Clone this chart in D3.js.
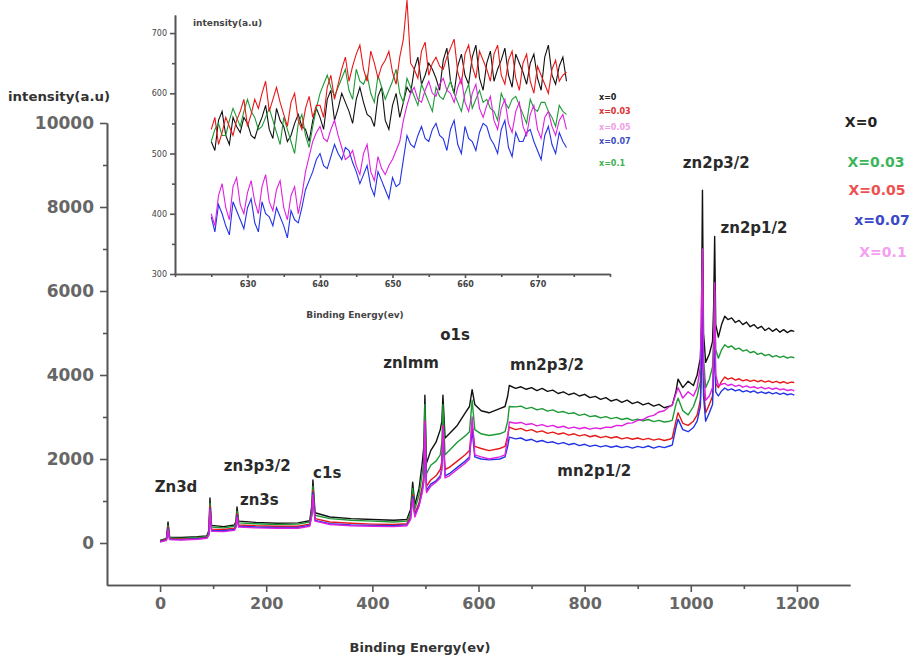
<!DOCTYPE html>
<html>
<head>
<meta charset="utf-8">
<script src="https://cdn.jsdelivr.net/npm/d3@7"></script>
<style>
  body { margin: 0; background: #fff; }
  text { font-family: "DejaVu Sans", Arial, sans-serif; }
</style>
</head>
<body>
<svg id="canvas"></svg>
<script>
// ---- main survey spectrum (binding energy in eV, intensity in a.u.) ----
const energy = [0, 5, 12, 15, 18, 40, 70, 88, 92, 94, 97, 120, 140, 143, 145, 148, 180, 220, 260, 282,
  286, 288, 292, 320, 360, 400, 440, 465, 472, 476, 480, 488, 494, 497, 499, 502, 510, 520, 528, 531,
  533, 537, 545, 560, 575, 583, 588, 593, 605, 620, 640, 650, 655, 658,
  670, 680, 690, 700, 710, 720, 730, 740, 750, 760, 770, 780, 790, 800, 810, 820, 830, 840, 850, 860,
  870, 880, 890, 900, 910, 920, 930, 940, 950, 960, 965,
  972, 976, 985, 995, 1005, 1012, 1018, 1020, 1022, 1024, 1028, 1035, 1041, 1043, 1045, 1047, 1052, 1058,
  1064, 1070, 1077, 1084, 1091, 1098, 1105, 1112, 1119, 1126, 1133, 1140, 1147, 1154, 1161, 1168, 1175, 1182, 1189, 1195]

const x0 = [60, 80, 110, 500, 140, 130, 150, 170, 300, 1070, 420, 390, 430, 520, 860, 520, 490, 470, 480, 530,
  900, 1500, 720, 620, 580, 560, 540, 560, 800, 1450, 900, 1300, 1900, 2300, 3520, 1900, 2200, 2400, 2700, 2900,
  3520, 2500, 2600, 2800, 3100, 3250, 3650, 3300, 3150, 3100, 3200, 3250, 3500, 3750,
  3680, 3720, 3660, 3700, 3630, 3680, 3610, 3640, 3560, 3600, 3530, 3570, 3500, 3540, 3460, 3490, 3420, 3460, 3380, 3420,
  3350, 3400, 3320, 3360, 3290, 3330, 3260, 3300, 3220, 3260, 3280,
  3600, 3900, 3700, 3850, 3750, 4000, 4400, 5200, 8400, 5000, 4300, 4500, 4800, 5600, 7300, 5200, 4900, 5200,
  5400, 5320, 5360, 5250, 5300, 5200, 5260, 5150, 5200, 5110, 5160, 5060, 5120, 5040, 5100, 5020, 5080, 5010, 5060, 5040]

const x003 = [50, 70, 100, 420, 120, 110, 130, 150, 260, 950, 380, 360, 400, 470, 760, 480, 460, 440, 450, 500,
  800, 1350, 660, 580, 540, 520, 500, 520, 700, 1300, 800, 1150, 1650, 2000, 3300, 1650, 1850, 1950, 2100, 2400,
  3300, 2100, 2200, 2400, 2550, 2650, 3400, 2700, 2600, 2560, 2600, 2650, 2900, 3250,
  3240, 3260, 3200, 3230, 3170, 3200, 3140, 3170, 3110, 3130, 3080, 3100, 3040, 3070, 3010, 3030, 2980, 3010, 2960, 2990,
  2940, 2970, 2920, 2950, 2910, 2940, 2890, 2920, 2880, 2900, 2920,
  3300, 3450, 3150, 3050, 3250, 3500, 3850, 4600, 6500, 4400, 3700, 3900, 4200, 4900, 6000, 4600, 4400, 4600,
  4720, 4660, 4690, 4610, 4640, 4570, 4600, 4530, 4560, 4490, 4520, 4460, 4490, 4430, 4460, 4420, 4450, 4400, 4430, 4410]

const x005 = [40, 60, 80, 380, 100, 90, 110, 130, 220, 880, 330, 320, 350, 420, 700, 430, 410, 400, 400, 450,
  720, 1250, 580, 500, 470, 450, 440, 460, 620, 1150, 700, 950, 1350, 1600, 2900, 1350, 1500, 1600, 1750, 1950,
  2800, 1750, 1800, 1950, 2100, 2200, 2800, 2300, 2250, 2200, 2250, 2300, 2550, 2760,
  2700, 2730, 2670, 2700, 2640, 2670, 2610, 2640, 2590, 2620, 2570, 2600, 2550, 2580, 2530, 2560, 2510, 2540, 2500, 2530,
  2480, 2510, 2470, 2500, 2460, 2490, 2450, 2480, 2440, 2470, 2500,
  2900, 3100, 2850, 2800, 2900, 3050, 3400, 4200, 6000, 3700, 3100, 3300, 3500, 4200, 5200, 3800, 3700, 3850,
  3950, 3900, 3930, 3880, 3910, 3860, 3890, 3850, 3880, 3840, 3870, 3830, 3860, 3820, 3850, 3810, 3840, 3800, 3830, 3820]

const x007 = [30, 50, 70, 350, 90, 80, 100, 120, 200, 820, 300, 290, 320, 390, 650, 400, 380, 370, 370, 420,
  680, 1200, 540, 460, 430, 420, 410, 430, 580, 1100, 650, 900, 1250, 1500, 2800, 1250, 1400, 1480, 1600, 1800,
  2700, 1600, 1650, 1800, 1950, 2050, 2700, 2050, 2000, 1980, 2000, 2050, 2300, 2520,
  2480, 2500, 2440, 2470, 2410, 2440, 2390, 2410, 2360, 2390, 2340, 2370, 2320, 2350, 2300, 2330, 2290, 2320, 2280, 2310,
  2270, 2300, 2260, 2300, 2270, 2310, 2260, 2300, 2270, 2310, 2330,
  2750, 2950, 2700, 2650, 2750, 2900, 3250, 4000, 5800, 3500, 2900, 3100, 3300, 4000, 5000, 3600, 3500, 3620,
  3690, 3640, 3670, 3620, 3650, 3600, 3630, 3590, 3620, 3570, 3600, 3560, 3590, 3550, 3580, 3540, 3570, 3530, 3550, 3520]

const x01 = [20, 40, 60, 330, 80, 70, 90, 110, 190, 800, 280, 270, 300, 370, 620, 380, 360, 350, 350, 400,
  650, 1150, 520, 440, 410, 400, 390, 410, 560, 1050, 620, 880, 1200, 1450, 2900, 1200, 1350, 1450, 1550, 1750,
  2800, 1550, 1600, 1750, 1900, 2000, 3000, 2100, 2050, 2000, 2050, 2100, 2500, 2880,
  2850, 2870, 2820, 2840, 2790, 2820, 2770, 2800, 2750, 2780, 2730, 2760, 2720, 2750, 2710, 2740, 2720, 2760, 2750, 2800,
  2790, 2850, 2860, 2920, 2940, 3010, 3040, 3120, 3150, 3250, 3280,
  3550, 3700, 3450, 3600, 3500, 3700, 4200, 5500, 7000, 4200, 3400, 3500, 3700, 4500, 6200, 4000, 3750, 3780,
  3800, 3750, 3780, 3730, 3760, 3710, 3740, 3700, 3720, 3680, 3710, 3670, 3700, 3660, 3690, 3650, 3670, 3630, 3650, 3620]

const mainNames = ["X=0", "X=0.03", "X=0.05", "x=0.07", "X=0.1"]
const mainColors = ["#111111", "#1d9a35", "#e81818", "#2233e6", "#e020e0"]
const legendColors = ["#222222", "#3cb55a", "#ee5050", "#3a48c8", "#f3a0f0"]

const xTicks = [0, 200, 400, 600, 800, 1000, 1200]
const xMinor = [100, 300, 500, 700, 900, 1100]
const yTicks = [0, 2000, 4000, 6000, 8000, 10000]
const yMinor = [1000, 3000, 5000, 7000, 9000]

const peakNames = ["Zn3d", "zn3p3/2", "zn3s", "c1s", "znlmm", "o1s", "mn2p3/2", "mn2p1/2", "zn2p3/2", "zn2p1/2"]
const peakAt = [30, 183, 187, 315, 473, 556, 729, 818, 1048, 1119]
const peakLevel = [1214, 1714, 905, 1548, 4167, 4833, 4119, 1595, 8929, 7381]

// ---- inset: close-up scan, 0.5 eV steps ----
const insetEnergy = [625, 625.5, 626, 626.5, 627, 627.5, 628, 628.5, 629, 629.5, 630, 630.5, 631, 631.5, 632, 632.5,
  633, 633.5, 634, 634.5, 635, 635.5, 636, 636.5, 637, 637.5, 638, 638.5, 639, 639.5, 640, 640.5,
  641, 641.5, 642, 642.5, 643, 643.5, 644, 644.5, 645, 645.5, 646, 646.5, 647, 647.5, 648, 648.5,
  649, 649.5, 650, 650.5, 651, 651.5, 652, 652.5, 653, 653.5, 654, 654.5, 655, 655.5, 656, 656.5,
  657, 657.5, 658, 658.5, 659, 659.5, 660, 660.5, 661, 661.5, 662, 662.5, 663, 663.5, 664, 664.5,
  665, 665.5, 666, 666.5, 667, 667.5, 668, 668.5, 669, 669.5, 670, 670.5, 671, 671.5, 672, 672.5,
  673, 673.5, 674]
const in0 = [520, 505, 555, 570, 530, 515, 560, 545, 535, 560, 550, 530, 525, 545, 560, 580, 540, 525, 575, 555,
  545, 520, 530, 550, 565, 545, 540, 520, 555, 575, 560, 540, 590, 605, 555, 575, 600, 585, 570, 550,
  590, 610, 585, 565, 560, 545, 595, 610, 555, 540, 580, 600, 560, 585, 610, 600, 640, 660, 615, 630,
  650, 640, 625, 605, 655, 675, 620, 600, 645, 665, 630, 615, 660, 680, 625, 605, 650, 670, 620, 640,
  655, 675, 630, 610, 665, 650, 635, 615, 650, 665, 625, 605, 660, 680, 630, 615, 645, 660, 620]
const in003 = [540, 560, 515, 535, 560, 545, 530, 555, 570, 590, 545, 565, 590, 575, 600, 620, 570, 590, 610, 585,
  565, 545, 585, 600, 555, 540, 575, 595, 560, 580, 580, 560, 610, 630, 590, 615, 640, 660, 620, 645,
  665, 680, 640, 620, 670, 650, 625, 645, 655, 670, 635, 615, 660, 690, 755, 650, 640, 625, 670, 685,
  630, 650, 660, 645, 640, 660, 675, 690, 635, 615, 665, 680, 645, 625, 670, 655, 640, 620, 665, 680,
  630, 615, 655, 670, 625, 605, 650, 665, 620, 600, 645, 630, 615, 600, 640, 655, 620, 630, 635]
const in005 = [400, 380, 430, 450, 410, 390, 445, 460, 415, 400, 435, 455, 420, 400, 445, 465, 420, 405, 440, 455,
  410, 390, 430, 445, 400, 430, 470, 495, 520, 535, 545, 525, 520, 540, 555, 530, 510, 490, 495, 505,
  480, 465, 500, 515, 470, 455, 495, 475, 465, 480, 490, 505, 520, 555, 580, 600, 610, 590, 585, 605,
  620, 600, 595, 615, 625, 605, 600, 585, 610, 625, 585, 570, 600, 615, 575, 560, 580, 595, 555, 540,
  575, 590, 550, 535, 570, 585, 545, 530, 565, 580, 540, 525, 560, 570, 545, 530, 555, 565, 540]
const in007 = [395, 370, 415, 400, 380, 365, 420, 405, 390, 375, 410, 425, 385, 370, 420, 400, 395, 380, 410, 395,
  380, 360, 405, 390, 385, 410, 440, 455, 470, 490, 500, 480, 475, 495, 515, 500, 490, 510, 505, 485,
  470, 450, 465, 480, 445, 430, 470, 455, 440, 425, 460, 445, 450, 490, 530, 515, 510, 530, 545, 525,
  520, 540, 550, 530, 525, 505, 540, 555, 515, 500, 545, 525, 520, 505, 535, 550, 545, 525, 515, 500,
  540, 555, 510, 495, 535, 520, 520, 535, 540, 520, 505, 490, 530, 545, 515, 500, 535, 520, 510]
const in01 = [520, 540, 550, 530, 530, 555, 575, 560, 545, 570, 590, 570, 560, 540, 545, 560, 575, 555, 535, 515,
  560, 540, 520, 500, 550, 565, 530, 510, 545, 575, 600, 615, 630, 610, 595, 610, 625, 640, 605, 590,
  640, 620, 615, 630, 600, 585, 630, 610, 590, 605, 620, 640, 600, 585, 625, 610, 595, 580, 615, 600,
  585, 570, 610, 595, 590, 605, 620, 600, 585, 570, 600, 615, 575, 590, 605, 585, 590, 575, 570, 555,
  600, 585, 575, 590, 595, 580, 565, 550, 590, 575, 570, 585, 585, 570, 560, 545, 580, 570, 565]

const insetNames = ["x=0", "x=0.03", "x=0.05", "x=0.07", "x=0.1"]
const insetColors = ["#111111", "#e81818", "#e020e0", "#2233e6", "#1d9a35"]
const insetLegendColors = ["#222222", "#e03030", "#f0a0e8", "#4050c0", "#40b050"]
const insetXTicks = [630, 640, 650, 660, 670]
const insetXMinor = [620, 625, 635, 645, 655, 665, 675, 680]
const insetYTicks = [300, 400, 500, 600, 700]
const insetYMinor = [350, 450, 550, 650]

const width = 912, height = 657
const svg = d3.select("#canvas").attr("width", width).attr("height", height)

// main frame
const x = d3.scaleLinear().domain([-100, 1300]).range([107, 850])
const y = d3.scaleLinear().domain([-1000, 10000]).range([585, 123])

const axisColor = "#555"

function styleAxis(g, fontSize, weight, fill) {
    g.select(".domain").attr("stroke", axisColor).attr("stroke-width", 2)
    g.selectAll(".tick line").attr("stroke", axisColor).attr("stroke-width", 1.6)
    g.selectAll(".tick text")
        .attr("fill", fill)
        .style("font-size", fontSize + "px")
        .style("font-weight", weight)
        .style("font-family", '"DejaVu Sans", Arial, sans-serif')
}

const mainSeries = [x0, x003, x005, x007, x01]
const line = d3.line().x((d, i) => x(energy[i])).y(d => y(d))

svg.append("g").selectAll("path")
    .data(mainSeries)
    .enter().append("path")
    .attr("d", d => line(d))
    .attr("fill", "none")
    .attr("stroke", (d, i) => mainColors[i])
    .attr("stroke-width", 1.4)
    .attr("stroke-linejoin", "round")

const fmt = d3.format("d")

svg.append("g")
    .attr("transform", "translate(0,585)")
    .call(d3.axisBottom(x).tickValues(xMinor).tickSize(4).tickSizeOuter(0).tickFormat(""))
    .call(g => styleAxis(g, 16, "bold", "#666"))
svg.append("g")
    .attr("transform", "translate(0,585)")
    .call(d3.axisBottom(x).tickValues(xTicks).tickSize(7).tickSizeOuter(0).tickPadding(6).tickFormat(fmt))
    .call(g => styleAxis(g, 16, "bold", "#666"))

svg.append("g")
    .attr("transform", "translate(107,0)")
    .call(d3.axisLeft(y).tickValues(yMinor).tickSize(4).tickSizeOuter(0).tickFormat(""))
    .call(g => styleAxis(g, 17, "bold", "#666"))
svg.append("g")
    .attr("transform", "translate(107,0)")
    .call(d3.axisLeft(y).tickValues(yTicks).tickSize(7).tickSizeOuter(0).tickPadding(6).tickFormat(fmt))
    .call(g => styleAxis(g, 17, "bold", "#666"))

svg.append("text")
    .attr("x", 420).attr("y", 652)
    .attr("text-anchor", "middle")
    .style("font-size", "13px").style("font-weight", "bold").attr("fill", "#333")
    .text("Binding Energy(ev)")

svg.append("text")
    .attr("x", 8).attr("y", 101)
    .attr("textLength", 102).attr("lengthAdjust", "spacingAndGlyphs")
    .style("font-size", "12px").style("font-weight", "bold").attr("fill", "#333")
    .text("intensity(a.u)")

// peak labels
svg.append("g").selectAll("text")
    .data(peakNames)
    .enter().append("text")
    .attr("x", (d, i) => x(peakAt[i]))
    .attr("y", (d, i) => y(peakLevel[i]))
    .attr("text-anchor", "middle")
    .style("font-size", "15px").style("font-weight", "bold").attr("fill", "#2a2a2a")
    .text(d => d)

// main legend
const legendY = [127, 167, 195, 225, 257]
const legendX = [861, 876, 877, 882, 883]
svg.append("g").selectAll("text")
    .data(mainNames)
    .enter().append("text")
    .attr("x", (d, i) => legendX[i])
    .attr("y", (d, i) => legendY[i])
    .attr("text-anchor", "middle")
    .style("font-size", "14px")
    .style("font-weight", "bold")
    .attr("fill", (d, i) => legendColors[i])
    .text(d => d)

// inset
const xi = d3.scaleLinear().domain([620, 680]).range([175, 610])
const yi = d3.scaleLinear().domain([300, 730]).range([274, 15])

const insetSeries = [in0, in003, in005, in007, in01]
const insetLine = d3.line().x((d, i) => xi(insetEnergy[i])).y(d => yi(d))

// draw order: black, green, red, blue, magenta
const insetOrder = [0, 4, 1, 3, 2]
svg.append("g").selectAll("path")
    .data(insetOrder)
    .enter().append("path")
    .attr("d", k => insetLine(insetSeries[k]))
    .attr("fill", "none")
    .attr("stroke", k => insetColors[k])
    .attr("stroke-width", 1.1)

svg.append("g")
    .attr("transform", "translate(0,274)")
    .call(d3.axisBottom(xi).tickValues(insetXMinor).tickSize(3).tickSizeOuter(0).tickFormat(""))
    .call(g => styleAxis(g, 8, "bold", "#444"))
svg.append("g")
    .attr("transform", "translate(0,274)")
    .call(d3.axisBottom(xi).tickValues(insetXTicks).tickSize(4).tickSizeOuter(0).tickPadding(3))
    .call(g => styleAxis(g, 8, "bold", "#444"))
svg.append("g")
    .attr("transform", "translate(175,0)")
    .call(d3.axisLeft(yi).tickValues(insetYMinor).tickSize(3).tickSizeOuter(0).tickFormat(""))
    .call(g => styleAxis(g, 8, "normal", "#444"))
svg.append("g")
    .attr("transform", "translate(175,0)")
    .call(d3.axisLeft(yi).tickValues(insetYTicks).tickSize(5).tickSizeOuter(0).tickPadding(3))
    .call(g => styleAxis(g, 8, "normal", "#444"))
svg.selectAll("g .domain").attr("stroke-width", 1.6)

svg.append("text")
    .attr("x", 355).attr("y", 318)
    .attr("text-anchor", "middle")
    .style("font-size", "9px").style("font-weight", "bold").attr("fill", "#444")
    .text("Binding Energy(ev)")

svg.append("text")
    .attr("x", 193).attr("y", 26)
    .style("font-size", "9px").style("font-weight", "bold").attr("fill", "#444")
    .text("intensity(a.u)")

const insetLegendY = [100, 114, 130, 144, 166]
svg.append("g").selectAll("text")
    .data(insetNames)
    .enter().append("text")
    .attr("x", 599)
    .attr("y", (d, i) => insetLegendY[i])
    .style("font-size", "8px").style("font-weight", "bold")
    .attr("fill", (d, i) => insetLegendColors[i])
    .text(d => d)
</script>
</body>
</html>
